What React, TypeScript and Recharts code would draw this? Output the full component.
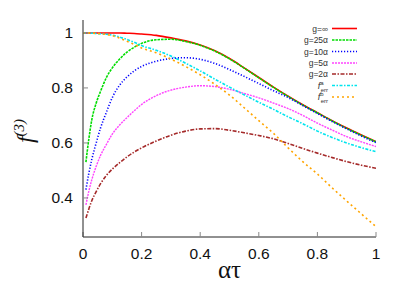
import React from 'react';
import { LineChart, Line, XAxis, YAxis } from 'recharts';

const xs = [0, 0.01, 0.02, 0.03, 0.045, 0.06, 0.08, 0.1, 0.125, 0.15, 0.175, 0.2, 0.25, 0.3, 0.35, 0.4, 0.45, 0.5, 0.55, 0.6, 0.65, 0.7, 0.75, 0.8, 0.85, 0.9, 0.95, 1];

const gInf = [1, 1, 1, 1, 1, 1, 1, 1, 1, 0.999, 0.998, 0.996, 0.991, 0.982, 0.971, 0.956, 0.935, 0.907, 0.873, 0.838, 0.803, 0.77, 0.739, 0.71, 0.681, 0.654, 0.629, 0.605];
const g25 = [null, 0.53, 0.615, 0.684, 0.745, 0.788, 0.838, 0.873, 0.905, 0.93, 0.948, 0.962, 0.975, 0.977, 0.969, 0.955, 0.934, 0.906, 0.872, 0.837, 0.802, 0.769, 0.738, 0.709, 0.68, 0.653, 0.628, 0.604];
const g10 = [null, 0.43, 0.49, 0.54, 0.6, 0.655, 0.712, 0.765, 0.81, 0.84, 0.862, 0.878, 0.897, 0.907, 0.91, 0.904, 0.889, 0.867, 0.842, 0.816, 0.79, 0.765, 0.736, 0.707, 0.678, 0.651, 0.625, 0.601];
const g5 = [null, 0.375, 0.425, 0.466, 0.515, 0.555, 0.595, 0.632, 0.665, 0.692, 0.717, 0.74, 0.772, 0.792, 0.803, 0.808, 0.805, 0.795, 0.78, 0.764, 0.745, 0.725, 0.7, 0.672, 0.647, 0.623, 0.604, 0.587];
const g2 = [null, 0.327, 0.36, 0.39, 0.423, 0.452, 0.482, 0.505, 0.528, 0.549, 0.567, 0.582, 0.607, 0.628, 0.643, 0.651, 0.652, 0.646, 0.637, 0.627, 0.615, 0.598, 0.58, 0.563, 0.547, 0.532, 0.519, 0.508];
const errA = [1, 1, 1, 0.999, 0.998, 0.997, 0.995, 0.992, 0.985, 0.976, 0.966, 0.954, 0.937, 0.916, 0.89, 0.862, 0.832, 0.803, 0.775, 0.748, 0.722, 0.695, 0.67, 0.643, 0.62, 0.6, 0.583, 0.568];
const errB = [1, 1, 1, 0.999, 0.998, 0.997, 0.994, 0.99, 0.981, 0.97, 0.958, 0.945, 0.928, 0.905, 0.878, 0.848, 0.813, 0.774, 0.728, 0.681, 0.635, 0.582, 0.532, 0.487, 0.437, 0.389, 0.342, 0.296];

const xTicks = [0, 0.2, 0.4, 0.6, 0.8, 1];
const yTicks = [0.4, 0.6, 0.8, 1];
const yDomain = [0.258, 1.047];

const seriesDefs = [
  { key: 'gInf', values: gInf, label: 'g=\u221e', color: '#ff0000', dash: undefined, width: 1.6 },
  { key: 'g25', values: g25, label: 'g=25\u03b1', color: '#00dd00', dash: '2.5 1', width: 1.6 },
  { key: 'g10', values: g10, label: 'g=10\u03b1', color: '#0000ff', dash: '1.2 1.8', width: 1.6 },
  { key: 'g5', values: g5, label: 'g=5\u03b1', color: '#ff44ff', dash: '2 1', width: 1.4 },
  { key: 'g2', values: g2, label: 'g=2\u03b1', color: '#a52a2a', dash: '4 1.5 1.5 1.5', width: 1.6 },
  { key: 'errA', values: errA, label: 'a', color: '#00e5ee', dash: '3 1.5 1.5 1.5', width: 1.6 },
  { key: 'errB', values: errB, label: 'b', color: '#ffa500', dash: '2 3', width: 1.6 },
];

const data = xs.map((x, i) => {
  const row: any = { x };
  seriesDefs.forEach((s) => {
    row[s.key] = s.values[i];
  });
  return row;
});

const tickStyle = { fontFamily: '"Liberation Sans", Arial, sans-serif', fontSize: 15.5, fill: '#111' };

const legendRows = [28.5, 40, 51.5, 63, 74, 85.5, 97];

export default function App() {
  return (
    <div style={{ position: 'absolute', left: 0, top: 0, width: 415, height: 291, background: '#fff' }}>
      <LineChart width={415} height={291} data={data} margin={{ top: 20, right: 39, bottom: 24, left: 0 }}>
        <XAxis
          dataKey="x"
          type="number"
          domain={[0, 1]}
          ticks={xTicks}
          allowDataOverflow
          height={30}
          tickSize={-5}
          tickMargin={16}
          tick={tickStyle}
          tickLine={{ stroke: '#888' }}
          axisLine={{ stroke: '#222' }}
          tickFormatter={(v: number) => String(v)}
          label={(props: any) => {
            const vb = props.viewBox;
            return (
              <text x={vb.x + vb.width / 2} y={vb.y + 41} textAnchor="middle" fontFamily='"Liberation Serif", "DejaVu Serif", serif' fontSize={25} fill="#111">
                {'\u03b1\u03c4'}
              </text>
            );
          }}
        />
        <XAxis
          xAxisId="top"
          orientation="top"
          dataKey="x"
          type="number"
          domain={[0, 1]}
          ticks={xTicks}
          allowDataOverflow
          height={0}
          tickSize={-5}
          tick={false}
          tickLine={{ stroke: '#888' }}
          axisLine={{ stroke: '#222' }}
        />
        <YAxis
          type="number"
          domain={yDomain}
          ticks={yTicks}
          allowDataOverflow
          width={83}
          tickSize={-5}
          tickMargin={15}
          tick={tickStyle}
          tickLine={{ stroke: '#888' }}
          axisLine={{ stroke: '#222' }}
          tickFormatter={(v: number) => String(v)}
        />
        <YAxis
          yAxisId="right"
          orientation="right"
          type="number"
          domain={yDomain}
          ticks={yTicks}
          allowDataOverflow
          width={0}
          tickSize={-5}
          tick={false}
          tickLine={{ stroke: '#888' }}
          axisLine={{ stroke: '#222' }}
        />
        {seriesDefs.map((s) => (
          <Line
            key={s.key}
            dataKey={s.key}
            type="monotone"
            stroke={s.color}
            strokeWidth={s.width}
            strokeDasharray={s.dash}
            dot={false}
            activeDot={false}
            isAnimationActive={false}
          />
        ))}
      </LineChart>
      <svg width={415} height={291} style={{ position: 'absolute', left: 0, top: 0, pointerEvents: 'none' }}>
        <text transform="translate(33,131) rotate(-90)" textAnchor="middle" fontFamily='"Liberation Serif", "DejaVu Serif", serif' fill="#111">
          <tspan fontSize={24} fontStyle="italic">f</tspan>
          <tspan fontSize={15} fontStyle="italic" dy={-9}>(3)</tspan>
        </text>
        {seriesDefs.map((s, i) => {
          const y = legendRows[i];
          const isErr = s.key === 'errA' || s.key === 'errB';
          return (
            <g key={s.key}>
              {isErr ? (
                <text x={328} y={y + 3} textAnchor="end" fontFamily='"Liberation Sans", Arial, sans-serif' fill="#333">
                  <tspan fontSize={9} fontStyle="italic">f</tspan>
                  <tspan fontSize={6} dy={-4}>{s.label}</tspan>
                  <tspan fontSize={6} dx={-3} dy={7}>err</tspan>
                </text>
              ) : (
                <text x={328} y={y + 3} textAnchor="end" fontFamily='"Liberation Sans", Arial, sans-serif' fontSize={8.5} fill="#333">
                  {s.label}
                </text>
              )}
              <line x1={332} x2={357} y1={y} y2={y} stroke={s.color} strokeWidth={s.width} strokeDasharray={s.dash} />
            </g>
          );
        })}
      </svg>
    </div>
  );
}
